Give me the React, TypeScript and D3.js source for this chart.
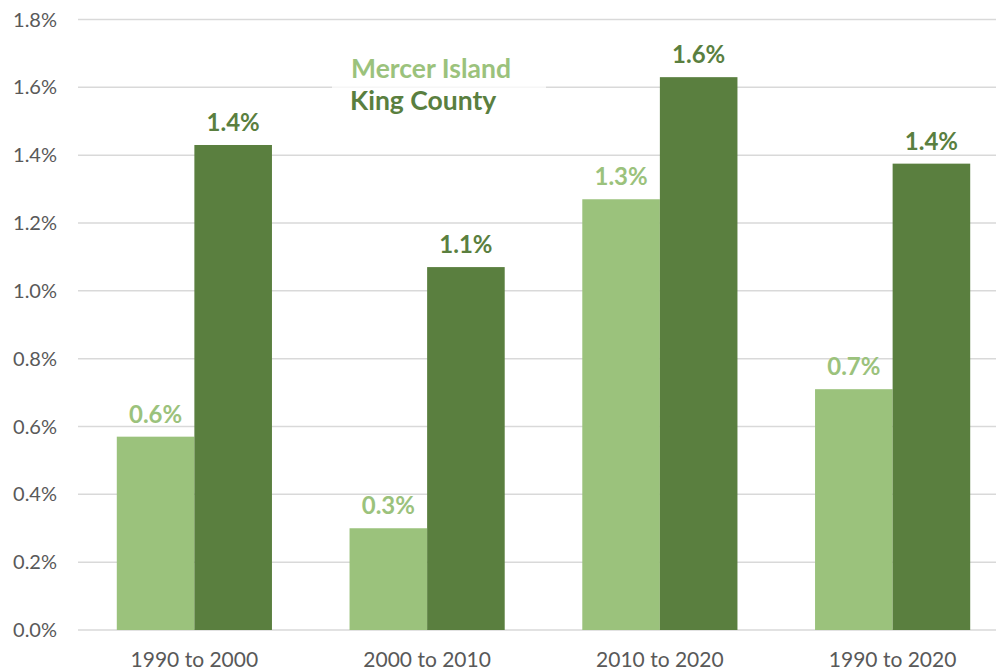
import React from "react";
import * as d3 from "d3";

const categories = ["1990 to 2000", "2000 to 2010", "2010 to 2020", "1990 to 2020"];
const mercerIsland = [0.57, 0.30, 1.27, 0.71];
const kingCounty = [1.43, 1.07, 1.63, 1.375];
const mercerLabels = ["0.6%", "0.3%", "1.3%", "0.7%"];
const kingLabels = ["1.4%", "1.1%", "1.6%", "1.4%"];
const yTicks = [0, 0.2, 0.4, 0.6, 0.8, 1.0, 1.2, 1.4, 1.6, 1.8];
const seriesNames = ["Mercer Island", "King County"];

const LIGHT = "#9BC27C";
const DARK = "#5A7F3F";
const TEXT = "#595959";
const FONT = "Lato, 'Open Sans', sans-serif";

export default function App() {
  const W = 996, H = 672;
  const x = d3.scaleBand<string>().domain(categories).range([78, 1009]).paddingInner(1 / 3).paddingOuter(1 / 6);
  const sub = d3.scaleBand<number>().domain([0, 1]).range([0, x.bandwidth()]);
  const y = d3.scaleLinear().domain([0, 1.8]).range([630, 19.5]);
  const series = [
    { name: seriesNames[0], values: mercerIsland, labels: mercerLabels, color: LIGHT },
    { name: seriesNames[1], values: kingCounty, labels: kingLabels, color: DARK },
  ];
  return (
    <svg width={W} height={H} style={{ position: "absolute", left: 0, top: 0, background: "#fff" }}>
      <rect x={0} y={0} width={W} height={H} fill="#fff" />
      {yTicks.map((t) => (
        <g key={t}>
          <line x1={78} x2={W} y1={y(t)} y2={y(t)} stroke="#D9D9D9" strokeWidth={1.5} />
          <text x={57} y={y(t)} dy="0.35em" textAnchor="end" fontFamily={FONT} fontSize={20} fill={TEXT}>
            {d3.format(".1f")(t)}%
          </text>
        </g>
      ))}
      <rect x={332} y={54} width={214} height={64} fill="#fff" opacity={0.75} />
      {series.map((s, si) =>
        categories.map((c, i) => {
          const bx = (x(c) as number) + (sub(si) as number);
          return (
            <g key={c + si}>
              <rect x={bx} y={y(s.values[i])} width={sub.bandwidth()} height={y(0) - y(s.values[i])} fill={s.color} />
              <text x={bx + sub.bandwidth() / 2} y={y(s.values[i]) - 14} textAnchor="middle" fontFamily={FONT} fontWeight="bold" fontSize={24} fill={s.color}>
                {s.labels[i]}
              </text>
            </g>
          );
        })
      )}
      {categories.map((c) => (
        <text key={c} x={(x(c) as number) + x.bandwidth() / 2} y={667} textAnchor="middle" fontFamily={FONT} fontSize={21} fill={TEXT}>
          {c}
        </text>
      ))}
      <text x={351} y={78} fontFamily={FONT} fontWeight="bold" fontSize={26.5} fill={LIGHT}>{seriesNames[0]}</text>
      <text x={350} y={110} fontFamily={FONT} fontWeight="bold" fontSize={26.5} fill={DARK}>{seriesNames[1]}</text>
    </svg>
  );
}
